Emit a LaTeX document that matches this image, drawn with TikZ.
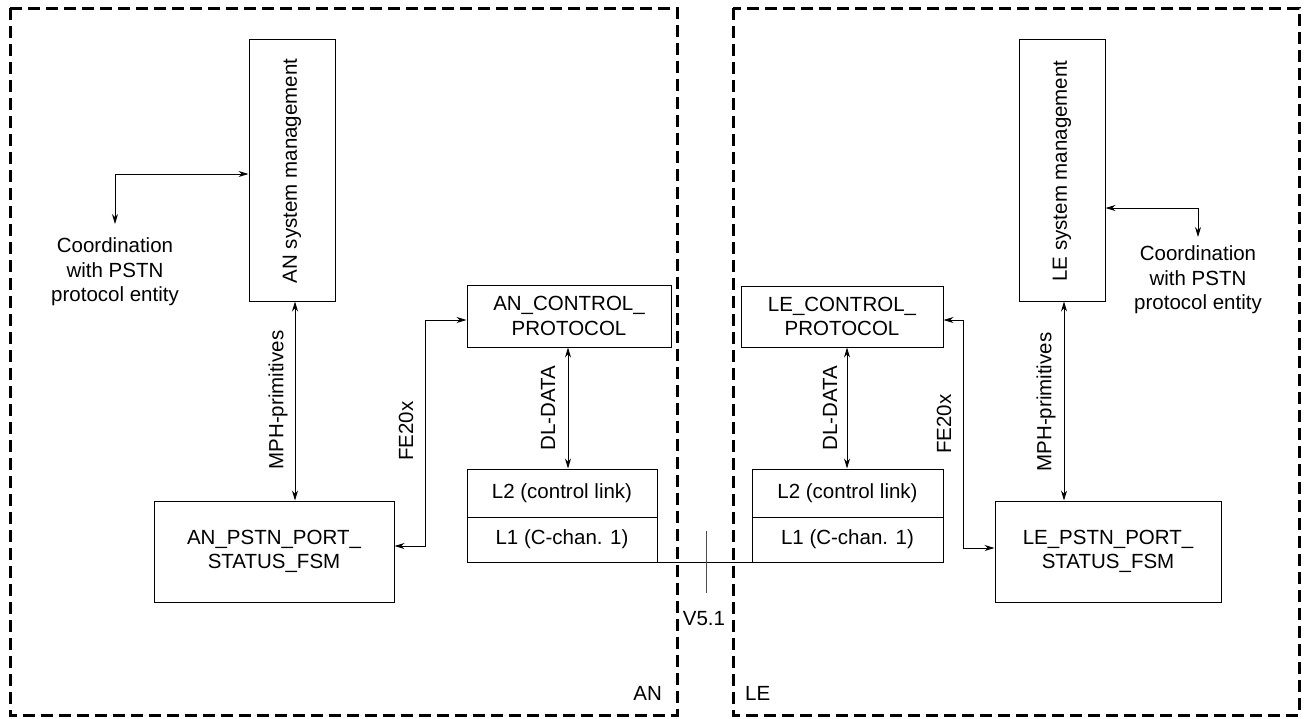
\documentclass[tikz,border=0pt]{standalone}
\usepackage{fontspec}
\setmainfont{Liberation Sans}
\usetikzlibrary{arrows.meta}
\begin{document}
\begin{tikzpicture}[x=1pt,y=-1pt,
  every node/.style={font=\fontsize{20.5}{24.5}\selectfont},
  box/.style={draw, line width=1pt, inner sep=0pt, align=center},
  frame/.style={line width=3pt, dash pattern=on 12pt off 6pt},
  conn/.style={line width=0.9pt, {Stealth[length=10pt,width=6pt]}-{Stealth[length=10pt,width=6pt]}},
  lbl/.style={rotate=90, inner sep=0pt},
  plain/.style={inner sep=0pt, align=center}]
\useasboundingbox (0,0) rectangle (1305,718);
% frames
\draw[frame] (10,8) rectangle (677,715);
\draw[frame] (733,8) rectangle (1299,715);
\node[plain, anchor=east] (anlbl) at (662,693) {AN};
\node[plain, anchor=west] (lelbl) at (745,693) {LE};
% AN side
\node[box, minimum width=86pt, minimum height=262pt] (sysAN) at (292,170) {};
\node[lbl] (sysANt) at (292,171) {AN system management};
\node[box, minimum width=240pt, minimum height=101pt] (fsmAN) at (274,551.5) {AN\_PSTN\_PORT\_\\STATUS\_FSM};
\node[box, minimum width=204pt, minimum height=62pt] (ctrlAN) at (569,316) {AN\_CONTROL\_\\PROTOCOL};
\node[box, minimum width=190pt, minimum height=48pt] (ltwoAN) at (562,493) {L2 (control link)};
\node[box, minimum width=190pt, minimum height=45pt] (loneAN) at (562,539.5) {L1 (C-chan. 1)};
\node[plain] (coordAN) at (115,272) {Coordination\\with PSTN\\protocol entity};
\coordinate (cAN) at (115,224);
\draw[conn] (cAN) |- (sysAN.west |- 0,174);
\draw[conn] (sysAN.south -| 295,0) -- (fsmAN.north -| 295,0);
\node[lbl] (mphAN) at (278,400) {MPH-primitives};
\draw[conn] (fsmAN.east |- 0,546) -- (425,546) -- (425,320) -- (ctrlAN.west |- 0,320);
\node[lbl] (feAN) at (406,431) {FE20x};
\draw[conn] (ctrlAN.south -| 568,0) -- (ltwoAN.north -| 568,0);
\node[lbl] (dlAN) at (548,408) {DL-DATA};
% LE side
\node[box, minimum width=86pt, minimum height=262pt] (sysLE) at (1062,170) {};
\node[lbl] (sysLEt) at (1062,171) {LE system management};
\node[box, minimum width=226pt, minimum height=101pt] (fsmLE) at (1108,551.5) {LE\_PSTN\_PORT\_\\STATUS\_FSM};
\node[box, minimum width=202pt, minimum height=61pt] (ctrlLE) at (842,316.5) {LE\_CONTROL\_\\PROTOCOL};
\node[box, minimum width=191pt, minimum height=48pt] (ltwoLE) at (847.5,493) {L2 (control link)};
\node[box, minimum width=191pt, minimum height=45pt] (loneLE) at (847.5,539.5) {L1 (C-chan. 1)};
\node[plain] (coordLE) at (1198,280) {Coordination\\with PSTN\\protocol entity};
\coordinate (cLE) at (1198,237);
\draw[conn] (cLE) |- (sysLE.east |- 0,208);
\draw[conn] (sysLE.south -| 1064,0) -- (fsmLE.north -| 1064,0);
\node[lbl] (mphLE) at (1046,402) {MPH-primitives};
\draw[conn] (fsmLE.west |- 0,548) -- (963,548) -- (963,320) -- (ctrlLE.east |- 0,320);
\node[lbl] (feLE) at (944,424) {FE20x};
\draw[conn] (ctrlLE.south -| 847,0) -- (ltwoLE.north -| 847,0);
\node[lbl] (dlLE) at (830,408) {DL-DATA};
% V5.1 link
\draw[line width=1pt] (loneAN.south east) -- (loneLE.south west);
\coordinate (tkA) at (706,531);
\coordinate (tkB) at (706,593);
\draw[line width=0.9pt, black!70] (tkA) -- (tkB);
\node[plain] (vlbl) at (704,619) {V5.1};
\end{tikzpicture}
\end{document}
